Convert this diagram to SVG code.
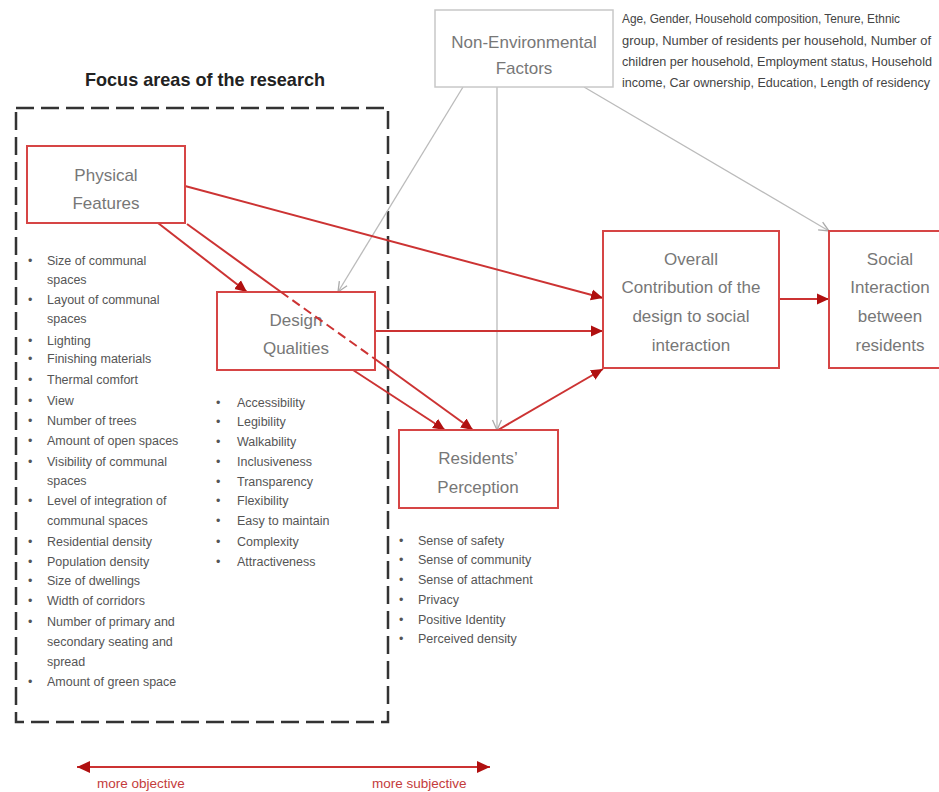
<svg xmlns="http://www.w3.org/2000/svg" width="939" height="792" viewBox="0 0 939 792">
<defs>
<marker id="ah" markerUnits="userSpaceOnUse" markerWidth="13" markerHeight="13" viewBox="0 0 13 13" refX="12" refY="6.5" orient="auto">
<path d="M0,1 L12,6.5 L0,12 Z" fill="#b01010"/>
</marker>
<marker id="ahs" markerUnits="userSpaceOnUse" markerWidth="14" markerHeight="14" viewBox="0 0 14 14" refX="13" refY="7" orient="auto-start-reverse">
<path d="M0,1 L13,7 L0,13 Z" fill="#b01010"/>
</marker>
<marker id="ag" markerUnits="userSpaceOnUse" markerWidth="12" markerHeight="12" viewBox="0 0 12 12" refX="11" refY="6" orient="auto">
<path d="M1,1.5 L11,6 L1,10.5" fill="none" stroke="#aaa" stroke-width="1.3"/>
</marker>
</defs>
<style>
.box{fill:#fff;stroke:#d64545;stroke-width:2}
.gbox{fill:#fff;stroke:#c8c8c8;stroke-width:1.5}
.bt{font-family:"Liberation Sans",Arial,sans-serif;font-size:17px;fill:#777;text-anchor:middle}
.li{font-family:"Liberation Sans",Arial,sans-serif;font-size:12.5px;fill:#555}
.red{stroke:#cc3333;stroke-width:2;fill:none}
.gray{stroke:#bbb;stroke-width:1.3;fill:none}
.lab{font-family:"Liberation Sans",Arial,sans-serif;font-size:13.5px;fill:#c43c3c}
</style>
<rect width="939" height="792" fill="#fff"/>

<text x="205" y="86" font-family="'Liberation Sans',Arial,sans-serif" font-weight="bold" font-size="18.5" fill="#222" text-anchor="middle" textLength="240" lengthAdjust="spacingAndGlyphs">Focus areas of the research</text>
<rect x="16" y="108" width="372" height="614" fill="none" stroke="#333" stroke-width="2.5" stroke-dasharray="18,7"/>

<g id="connectors">
<line class="gray" x1="463" y1="87" x2="338" y2="292" marker-end="url(#ag)"/>
<line class="gray" x1="497" y1="87" x2="497" y2="430" marker-end="url(#ag)"/>
<line class="gray" x1="584" y1="87" x2="829" y2="231" marker-end="url(#ag)"/>
<line class="red" x1="185" y1="186" x2="603" y2="298" marker-end="url(#ah)"/>
<line class="red" x1="158" y1="223" x2="247" y2="292" marker-end="url(#ah)"/>
<line class="red" x1="375" y1="331" x2="603" y2="331" marker-end="url(#ah)"/>
<line class="red" x1="353" y1="370" x2="445" y2="430" marker-end="url(#ah)"/>
<line class="red" x1="498" y1="430" x2="603" y2="369" marker-end="url(#ah)"/>
<line class="red" x1="779" y1="299" x2="829" y2="299" marker-end="url(#ah)"/>
<line class="red" x1="77" y1="767" x2="490" y2="767" marker-start="url(#ahs)" marker-end="url(#ahs)"/>
</g>

<g id="non-environmental">
<rect class="gbox" x="435" y="10" width="178" height="77"/>
<text class="bt" x="524" y="48">Non-Environmental</text>
<text class="bt" x="524" y="74">Factors</text>
</g>
<g id="non-environmental-list" font-family="'Liberation Sans',Arial,sans-serif" font-size="12" fill="#444">
<text x="622" y="22.5" textLength="278" lengthAdjust="spacingAndGlyphs">Age, Gender, Household composition, Tenure, Ethnic</text>
<text x="622" y="44.5" textLength="309" lengthAdjust="spacingAndGlyphs">group, Number of residents per household, Number of</text>
<text x="622" y="65.5" textLength="310" lengthAdjust="spacingAndGlyphs">children per household, Employment status, Household</text>
<text x="622" y="86.5" textLength="308" lengthAdjust="spacingAndGlyphs">income, Car ownership, Education, Length of residency</text>
</g>

<g id="physical-features">
<rect class="box" x="27" y="146" width="158" height="77"/>
<text class="bt" x="106" y="181">Physical</text>
<text class="bt" x="106" y="209">Features</text>
</g>

<g id="design-qualities">
<rect class="box" x="217" y="292" width="158" height="78"/>
<text class="bt" x="296" y="326">Design</text>
<text class="bt" x="296" y="354">Qualities</text>
</g>
<g id="physical-to-residents">
<line class="red" x1="187" y1="224" x2="281" y2="292"/>
<line class="red" x1="281" y1="292" x2="375" y2="359" stroke-dasharray="9,5"/>
<line class="red" x1="375" y1="359" x2="473" y2="430" marker-end="url(#ah)"/>
</g>

<g id="residents-perception">
<rect class="box" x="399" y="430" width="159" height="78"/>
<text class="bt" x="478" y="464">Residents’</text>
<text class="bt" x="478" y="493">Perception</text>
</g>

<g id="overall-contribution">
<rect class="box" x="603" y="231" width="176" height="137"/>
<text class="bt" x="691" y="265">Overall</text>
<text class="bt" x="691" y="293">Contribution of the</text>
<text class="bt" x="691" y="322">design to social</text>
<text class="bt" x="691" y="351">interaction</text>
</g>

<g id="social-interaction">
<rect class="box" x="829" y="231" width="130" height="137"/>
<text class="bt" x="890" y="265">Social</text>
<text class="bt" x="890" y="293">Interaction</text>
<text class="bt" x="890" y="322">between</text>
<text class="bt" x="890" y="351">residents</text>
</g>

<g id="physical-list" class="li">
<text x="28" y="264.5">•</text><text x="47" y="264.5">Size of communal</text>
<text x="47" y="283.5">spaces</text>
<text x="28" y="303.5">•</text><text x="47" y="303.5">Layout of communal</text>
<text x="47" y="322.5">spaces</text>
<text x="28" y="344.5">•</text><text x="47" y="344.5">Lighting</text>
<text x="28" y="362.5">•</text><text x="47" y="362.5">Finishing materials</text>
<text x="28" y="383.5">•</text><text x="47" y="383.5">Thermal comfort</text>
<text x="28" y="404.5">•</text><text x="47" y="404.5">View</text>
<text x="28" y="424.5">•</text><text x="47" y="424.5">Number of trees</text>
<text x="28" y="444.5">•</text><text x="47" y="444.5">Amount of open spaces</text>
<text x="28" y="465.5">•</text><text x="47" y="465.5">Visibility of communal</text>
<text x="47" y="484.5">spaces</text>
<text x="28" y="504.5">•</text><text x="47" y="504.5">Level of integration of</text>
<text x="47" y="525">communal spaces</text>
<text x="28" y="546">•</text><text x="47" y="546">Residential density</text>
<text x="28" y="566">•</text><text x="47" y="566">Population density</text>
<text x="28" y="585">•</text><text x="47" y="585">Size of dwellings</text>
<text x="28" y="605">•</text><text x="47" y="605">Width of corridors</text>
<text x="28" y="626">•</text><text x="47" y="626">Number of primary and</text>
<text x="47" y="646">secondary seating and</text>
<text x="47" y="666">spread</text>
<text x="28" y="685.5">•</text><text x="47" y="685.5">Amount of green space</text>
</g>

<g id="design-list" class="li">
<text x="216" y="407">•</text><text x="237" y="407">Accessibility</text>
<text x="216" y="425.5">•</text><text x="237" y="425.5">Legibility</text>
<text x="216" y="445.5">•</text><text x="237" y="445.5">Walkability</text>
<text x="216" y="465.5">•</text><text x="237" y="465.5">Inclusiveness</text>
<text x="216" y="485.5">•</text><text x="237" y="485.5">Transparency</text>
<text x="216" y="504.5">•</text><text x="237" y="504.5">Flexibility</text>
<text x="216" y="524.5">•</text><text x="237" y="524.5">Easy to maintain</text>
<text x="216" y="545.5">•</text><text x="237" y="545.5">Complexity</text>
<text x="216" y="566">•</text><text x="237" y="566">Attractiveness</text>
</g>

<g id="residents-list" class="li">
<text x="399" y="544.5">•</text><text x="418" y="544.5">Sense of safety</text>
<text x="399" y="563.5">•</text><text x="418" y="563.5">Sense of community</text>
<text x="399" y="583.5">•</text><text x="418" y="583.5">Sense of attachment</text>
<text x="399" y="603.5">•</text><text x="418" y="603.5">Privacy</text>
<text x="399" y="623.5">•</text><text x="418" y="623.5">Positive Identity</text>
<text x="399" y="642.5">•</text><text x="418" y="642.5">Perceived density</text>
</g>

<g id="scale-labels">
<text class="lab" x="97" y="788">more objective</text>
<text class="lab" x="372" y="788">more subjective</text>
</g>
</svg>
